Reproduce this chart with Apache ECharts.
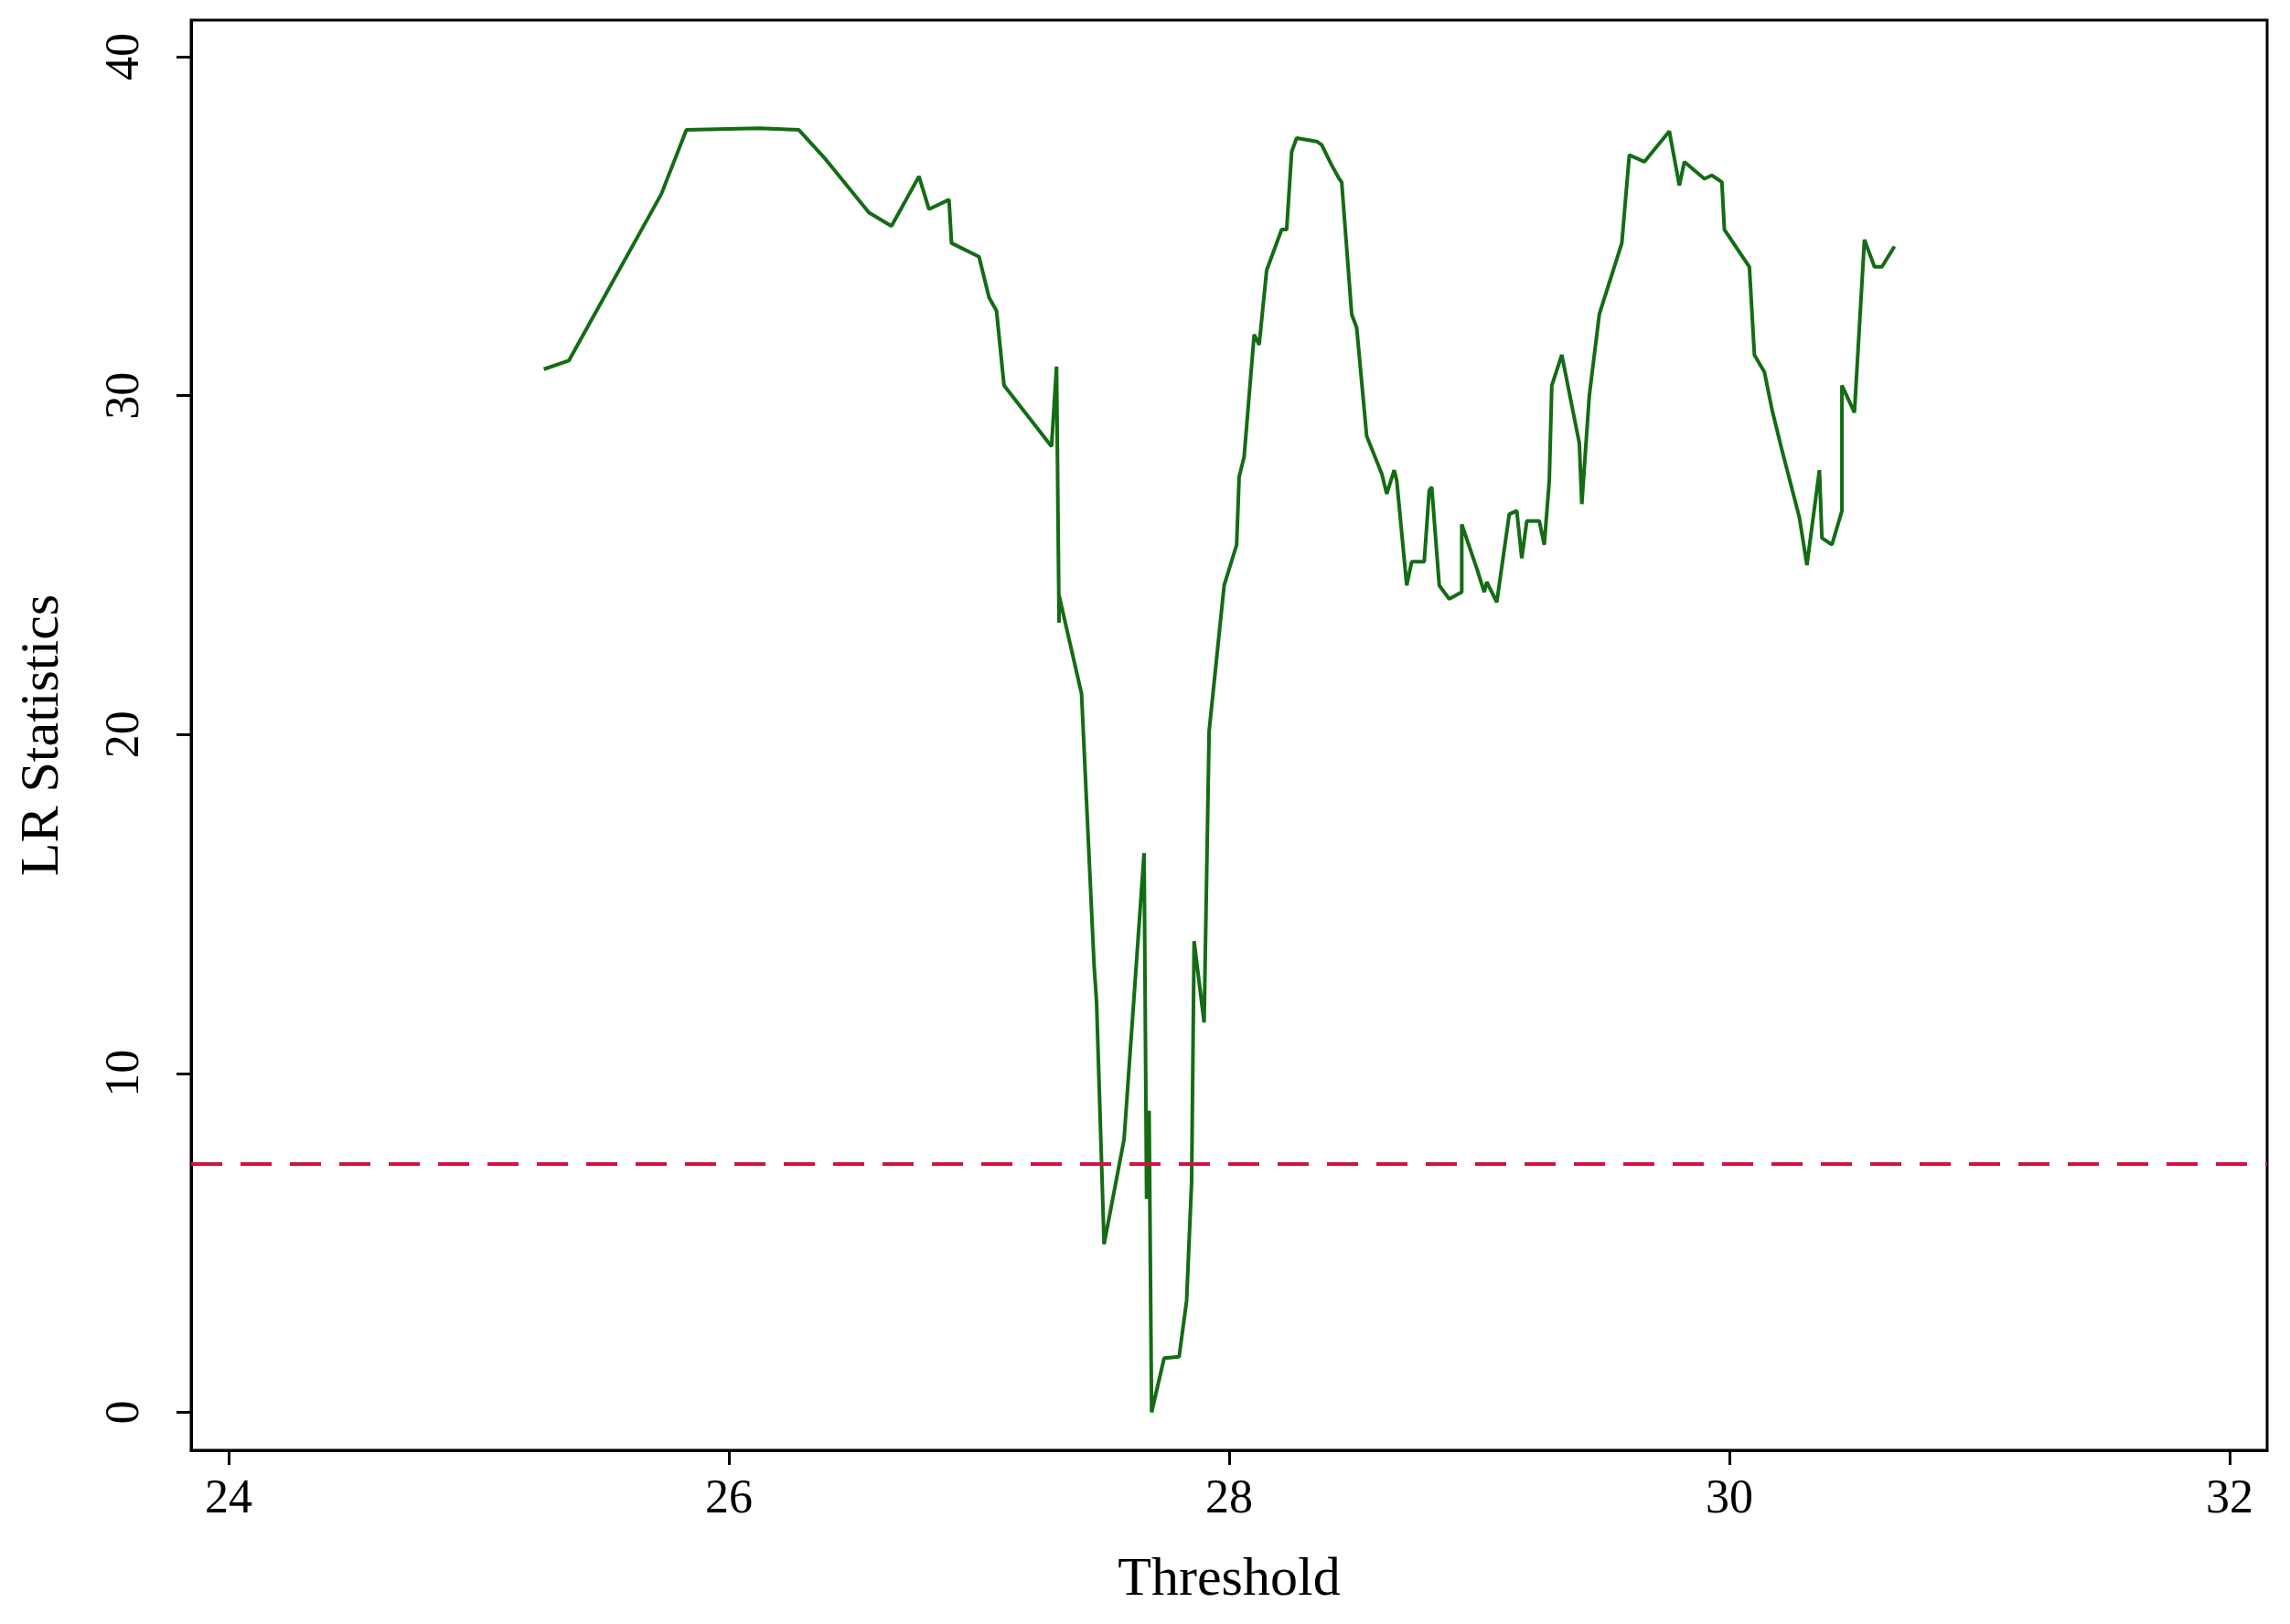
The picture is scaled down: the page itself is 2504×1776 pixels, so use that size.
<!DOCTYPE html>
<html>
<head>
<meta charset="utf-8">
<script src="https://cdn.jsdelivr.net/npm/echarts@6/dist/echarts.min.js"></script>
<style>html,body{margin:0;background:#fff}#c{width:2504px;height:1776px}</style>
</head>
<body>
<div id="c"></div>
<script>
"use strict";
// threshold values and LR statistic
const thresholds = [25.26,25.36,25.73,25.83,26.12,26.28,26.38,26.56,26.65,26.76,26.80,26.88,26.89,27.00,27.04,27.07,27.10,27.29,27.31,27.32,27.32,27.41,27.46,27.47,27.50,27.58,27.66,27.67,27.68,27.69,27.74,27.80,27.83,27.85,27.86,27.90,27.92,27.98,28.03,28.04,28.06,28.10,28.12,28.15,28.18,28.21,28.23,28.25,28.27,28.35,28.37,28.41,28.44,28.45,28.49,28.51,28.55,28.61,28.63,28.66,28.67,28.71,28.73,28.78,28.80,28.81,28.84,28.88,28.93,28.93,28.99,29.02,29.03,29.07,29.12,29.15,29.17,29.19,29.24,29.26,29.28,29.29,29.33,29.40,29.41,29.44,29.48,29.57,29.60,29.66,29.76,29.80,29.82,29.90,29.93,29.97,29.98,30.08,30.10,30.14,30.17,30.21,30.28,30.31,30.36,30.37,30.41,30.45,30.45,30.50,30.54,30.58,30.61,30.66];
const lrStats = [30.78,31.03,35.95,37.84,37.89,37.84,37.03,35.4,35.0,36.47,35.5,35.78,34.5,34.1,32.9,32.5,30.3,28.5,30.86,23.3,24.1,21.2,13.2,12.1,4.96,8.06,16.5,6.3,8.9,0,1.6,1.64,3.3,6.8,13.9,11.5,20.1,24.4,25.6,27.6,28.2,31.8,31.5,33.7,34.3,34.9,34.9,37.2,37.6,37.5,37.4,36.8,36.4,36.3,32.4,32.0,28.8,27.7,27.1,27.8,27.5,24.4,25.1,25.1,27.2,27.3,24.4,24.0,24.2,26.2,24.9,24.2,24.5,23.9,26.5,26.6,25.2,26.3,26.3,25.6,27.5,30.3,31.2,28.6,26.8,30.0,32.4,34.5,37.1,36.9,37.8,36.2,36.9,36.4,36.5,36.3,34.9,33.8,31.2,30.7,29.6,28.4,26.4,25.0,27.8,25.8,25.6,26.6,30.3,29.5,34.6,33.8,33.8,34.4];
const criticalValue = 7.33;
const xTicks = [24, 26, 28, 30, 32];
const yTicks = [0, 10, 20, 30, 40];

const FONT = "Liberation Serif";
const chart = echarts.init(document.getElementById("c"));
chart.setOption({
  animation: false,
  textStyle: { fontFamily: FONT },
  grid: { left: 209, right: 25, top: 22, bottom: 190, show: true,
          borderColor: "#000", borderWidth: 3, backgroundColor: "#fff" },
  xAxis: {
    type: "value", min: 23.85, max: 32.15,
    name: "Threshold", nameLocation: "middle", nameGap: 112,
    nameTextStyle: { fontSize: 60, color: "#000", fontFamily: FONT },
    axisLine: { show: true, onZero: false, lineStyle: { color: "#000", width: 3 } },
    axisTick: { show: true, length: 16, lineStyle: { color: "#000", width: 3 },
                customValues: xTicks },
    axisLabel: { fontSize: 52, color: "#000", margin: 28, customValues: xTicks },
    splitLine: { show: false }
  },
  yAxis: {
    type: "value", min: -1.12, max: 41.08,
    name: "LR Statistics", nameLocation: "middle", nameGap: 132, nameRotate: 90,
    nameTextStyle: { fontSize: 60, color: "#000", fontFamily: FONT },
    axisLine: { show: true, onZero: false, lineStyle: { color: "#000", width: 3 } },
    axisTick: { show: true, length: 16, lineStyle: { color: "#000", width: 3 },
                customValues: yTicks },
    axisLabel: { fontSize: 52, color: "#000", margin: 46, rotate: 90,
                 customValues: yTicks },
    splitLine: { show: false }
  },
  series: [{
    type: "line",
    data: thresholds.map((t, i) => [t, lrStats[i]]),
    showSymbol: false,
    lineStyle: { color: "#146c14", width: 4 },
    markLine: {
      silent: true, symbol: "none", label: { show: false },
      lineStyle: { color: "#cc1544", type: [34, 20], width: 4 },
      data: [{ yAxis: criticalValue }]
    }
  }]
});
</script>
</body>
</html>
